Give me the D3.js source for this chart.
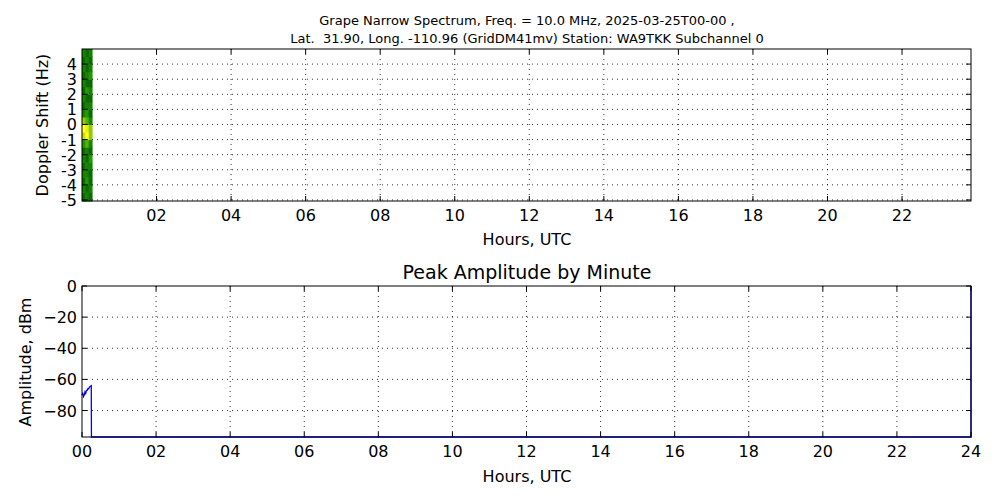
<!DOCTYPE html>
<html><head><meta charset="utf-8">
<script src="https://cdn.jsdelivr.net/npm/d3@7"></script>
<style>body{margin:0;background:#fff}svg{font-family:"DejaVu Sans",sans-serif}text{white-space:pre}</style>
</head><body><div class="canvas"></div>
<script>
var width = 1000, height = 500;

// spectrogram: power per frequency bin (rows, -5..5 Hz) for three time slices
var specTimes = [0, 0.09, 0.18];
var specFreqs = [-5, -4.5, -4, -3.5, -3, -2.5, -2, -1.5, -1, -0.5, 0, 0.5, 1, 1.5, 2, 2.5, 3, 3.5, 4, 4.5];
var specPower = [
	[2, 3, 2], [3, 2, 3], [2, 4, 2], [3, 3, 2], [2, 3, 3], [3, 2, 4], [2, 3, 2], [4, 5, 3],
	[7, 9, 6], [9, 8, 6], [6, 5, 3], [3, 4, 2], [2, 3, 3], [3, 2, 2], [2, 4, 3], [3, 2, 2],
	[2, 3, 4], [3, 2, 3], [2, 3, 2], [3, 2, 3]
];

// peak amplitude per minute
var ampHours = [0, 0.02, 0.04, 0.06, 0.08, 0.1, 0.12, 0.14, 0.16, 0.18, 0.2, 0.22, 0.25, 0.255, 24, 24];
var ampValues = [-70, -69, -71, -70, -68, -69, -67, -67, -66, -66, -65, -64.5, -64, -97, -97, 0];

var hourTicks = [0, 2, 4, 6, 8, 10, 12, 14, 16, 18, 20, 22, 24];
var dopTicks = [-5, -4, -3, -2, -1, 0, 1, 2, 3, 4];
var ampTicks = [-80, -60, -40, -20, 0];

var svg = d3.select(".canvas").append("svg").attr("width", width).attr("height", height);
var fmt = function(d) { return d3.format("02d")(d); };

function grid(g, x, y, xt, yt, x0, x1, y0, y1) {
	xt.forEach(function(t) {
		if (x(t) <= x0 + 1 || x(t) >= x1 - 1) return;
		g.append("line").attr("x1", x(t)).attr("x2", x(t)).attr("y1", y0).attr("y2", y1)
			.attr("stroke", "#000").attr("stroke-dasharray", "1,4").attr("stroke-width", 0.8);
	});
	yt.forEach(function(t) {
		if (y(t) <= y0 + 1 || y(t) >= y1 - 1) return;
		g.append("line").attr("x1", x0).attr("x2", x1).attr("y1", y(t)).attr("y2", y(t))
			.attr("stroke", "#000").attr("stroke-dasharray", "1,4").attr("stroke-width", 0.8);
	});
}

function ticks(g, x, y, xt, yt, x0, x1, y0, y1, xfmt, yfmt) {
	xt.forEach(function(t) {
		var px = x(t);
		if (px < x0 - 1 || px > x1 + 1) return;
		g.append("line").attr("x1", px).attr("x2", px).attr("y1", y1).attr("y2", y1 - 5).attr("stroke", "#000");
		g.append("line").attr("x1", px).attr("x2", px).attr("y1", y0).attr("y2", y0 + 5).attr("stroke", "#000");
		if (xfmt) g.append("text").attr("x", px).attr("y", y1 + 20).attr("text-anchor", "middle")
			.attr("font-size", 16).text(xfmt(t));
	});
	yt.forEach(function(t) {
		var py = y(t);
		g.append("line").attr("x1", x0).attr("x2", x0 + 5).attr("y1", py).attr("y2", py).attr("stroke", "#000");
		g.append("line").attr("x1", x1).attr("x2", x1 - 5).attr("y1", py).attr("y2", py).attr("stroke", "#000");
		g.append("text").attr("x", x0 - 5).attr("y", py + 6).attr("text-anchor", "end")
			.attr("font-size", 16).text(yfmt(t));
	});
}

/* ---------- top: spectrogram ---------- */
var L = 82, R = 971;
var x1 = d3.scaleLinear().domain([0, 23.85]).range([L, R]);
var y1 = d3.scaleLinear().domain([-5.07, 5]).range([201, 49]);
var color = d3.scaleLinear().domain([2, 4, 7, 9]).range(["#0a6a00", "#1f9a00", "#c8e000", "#ffff20"]);

var topG = svg.append("g");
specPower.forEach(function(row, i) {
	row.forEach(function(p, j) {
		var t0 = specTimes[j], t1 = j + 1 < specTimes.length ? specTimes[j + 1] : 0.27;
		var f0 = i === 0 ? -5.07 : specFreqs[i], f1 = i + 1 < specFreqs.length ? specFreqs[i + 1] : 5;
		topG.append("rect").attr("x", x1(t0)).attr("width", x1(t1) - x1(t0) + 0.5)
			.attr("y", y1(f1)).attr("height", y1(f0) - y1(f1) + 0.5).attr("fill", color(p));
	});
});
grid(topG, x1, y1, hourTicks, dopTicks, L, R, 49, 201);
topG.append("rect").attr("x", L).attr("y", 49).attr("width", R - L).attr("height", 152)
	.attr("fill", "none").attr("stroke", "#000");
ticks(topG, x1, y1, hourTicks.slice(1, 12), dopTicks, L, R, 49, 201, fmt, function(d) { return d; });
topG.append("text").attr("x", 527).attr("y", 25).attr("text-anchor", "middle").attr("font-size", 13)
	.text("Grape Narrow Spectrum, Freq. = 10.0 MHz, 2025-03-25T00-00 ,");
topG.append("text").attr("x", 527).attr("y", 43).attr("text-anchor", "middle").attr("font-size", 13)
	.text("Lat.  31.90, Long. -110.96 (GridDM41mv) Station: WA9TKK Subchannel 0");
topG.append("text").attr("x", 527).attr("y", 245).attr("text-anchor", "middle").attr("font-size", 16).text("Hours, UTC");
topG.append("text").attr("transform", "translate(48,125) rotate(-90)").attr("text-anchor", "middle")
	.attr("font-size", 16).text("Doppler Shift (Hz)");

/* ---------- bottom: amplitude ---------- */
var x2 = d3.scaleLinear().domain([0, 24]).range([L, R]);
var y2 = d3.scaleLinear().domain([-97, 0]).range([437, 286]);
var bot = svg.append("g");
grid(bot, x2, y2, hourTicks, ampTicks, L, R, 286, 437);
bot.append("path").datum(d3.zip(ampHours, ampValues))
	.attr("d", d3.line().x(function(d) { return x2(d[0]); }).y(function(d) { return y2(d[1]); }))
	.attr("fill", "none").attr("stroke", "#0000ff").attr("stroke-width", 1.3);
bot.append("rect").attr("x", L).attr("y", 286).attr("width", R - L).attr("height", 151)
	.attr("fill", "none").attr("stroke", "#000");
ticks(bot, x2, y2, hourTicks, ampTicks, L, R, 286, 437, fmt, function(d) { return d === 0 ? "0" : "\u2212" + Math.abs(d); });
bot.append("text").attr("x", 527).attr("y", 279).attr("text-anchor", "middle").attr("font-size", 19).text("Peak Amplitude by Minute");
bot.append("text").attr("x", 527).attr("y", 482).attr("text-anchor", "middle").attr("font-size", 16).text("Hours, UTC");
bot.append("text").attr("transform", "translate(31,362) rotate(-90)").attr("text-anchor", "middle")
	.attr("font-size", 16).text("Amplitude, dBm");
</script></body></html>
